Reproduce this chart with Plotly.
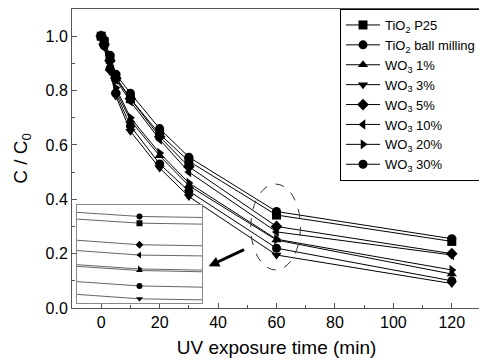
import plotly.graph_objects as go

times = [0, 1, 3, 5, 10, 20, 30, 60, 120]
names = ["TiO<sub>2</sub> P25", "TiO<sub>2</sub> ball milling", "WO<sub>3</sub> 1%",
         "WO<sub>3</sub> 3%", "WO<sub>3</sub> 5%", "WO<sub>3</sub> 10%",
         "WO<sub>3</sub> 20%", "WO<sub>3</sub> 30%"]
p25 = [1.0, 0.98, 0.92, 0.85, 0.77, 0.64, 0.54, 0.342, 0.245]
ball = [1.0, 0.965, 0.88, 0.79, 0.67, 0.53, 0.43, 0.22, 0.10]
wo1 = [1.0, 0.97, 0.88, 0.80, 0.69, 0.56, 0.45, 0.25, 0.125]
wo3 = [1.0, 0.96, 0.87, 0.78, 0.65, 0.515, 0.41, 0.195, 0.09]
wo5 = [1.0, 0.97, 0.91, 0.845, 0.77, 0.63, 0.52, 0.30, 0.20]
wo10 = [1.0, 0.975, 0.90, 0.84, 0.76, 0.62, 0.50, 0.28, 0.195]
wo20 = [1.0, 0.97, 0.89, 0.81, 0.70, 0.57, 0.46, 0.253, 0.14]
wo30 = [1.0, 0.985, 0.93, 0.86, 0.79, 0.66, 0.555, 0.355, 0.255]
series = [p25, ball, wo1, wo3, wo5, wo10, wo20, wo30]
symbols = ["square", "circle", "triangle-up", "triangle-down", "diamond",
           "triangle-left", "triangle-right", "circle"]

FONT = "Arial, Liberation Sans, sans-serif"
AX = "#555555"

fig = go.Figure()
for nm, ys, sym in zip(names, series, symbols):
    fig.add_trace(go.Scatter(x=times, y=ys, name=nm, mode="lines+markers",
                             line=dict(color="black", width=1),
                             marker=dict(symbol=sym, size=9, color="black"),
                             xaxis="x", yaxis="y"))
for nm, ys, sym in zip(names, series, symbols):
    fig.add_trace(go.Scatter(x=times, y=ys, name=nm, mode="lines+markers",
                             line=dict(color="#666666", width=1),
                             marker=dict(symbol=sym, size=6, color="black"),
                             xaxis="x2", yaxis="y2", showlegend=False))

fig.add_shape(type="circle", xref="x", yref="y", x0=51.2, x1=68.2, y0=0.14, y1=0.456,
              line=dict(color="#333333", width=1, dash="dash"))
fig.add_annotation(x=36.8, y=0.154, ax=49.4, ay=0.217, xref="x", yref="y",
                   axref="x", ayref="y", showarrow=True, arrowhead=2, arrowsize=0.7,
                   arrowwidth=3, arrowcolor="black", text="")

fig.update_layout(
    width=479, height=355,
    margin=dict(l=64, r=6, t=1, b=55),
    paper_bgcolor="white", plot_bgcolor="white",
    font=dict(family=FONT, size=16, color="black"),
    showlegend=True,
    legend=dict(x=1, y=1, xanchor="right", yanchor="top",
                bordercolor="black", borderwidth=1, bgcolor="white",
                font=dict(size=13), itemwidth=34, tracegroupgap=0),
    xaxis=dict(range=[-10, 130], dtick=20, tick0=0, ticks="inside", ticklen=5,
               showline=True, linecolor=AX, linewidth=1, mirror=True, showgrid=False,
               zeroline=False, tickcolor=AX,
               minor=dict(dtick=10, ticks="inside", ticklen=3, tickcolor=AX),
               title=dict(text="UV exposure time (min)", standoff=10)),
    yaxis=dict(range=[0, 1.1], dtick=0.2, tick0=0, tickformat=".1f", ticks="inside",
               ticklen=5, showline=True, linecolor=AX, linewidth=1, mirror=True,
               showgrid=False, zeroline=False, tickcolor=AX,
               minor=dict(dtick=0.1, ticks="inside", ticklen=3, tickcolor=AX),
               title=dict(text="C / C<sub>0</sub>", standoff=12)),
    xaxis2=dict(domain=[0.012, 0.318], anchor="y2", range=[58.8, 61.2],
                showticklabels=False, ticks="", showline=True, linecolor="#888888",
                mirror=True, showgrid=False, zeroline=False),
    yaxis2=dict(domain=[0.017, 0.344], anchor="x2", range=[0.187, 0.377],
                showticklabels=False, ticks="", showline=True, linecolor="#888888",
                mirror=True, showgrid=False, zeroline=False),
)

fig.write_html("out.html")
